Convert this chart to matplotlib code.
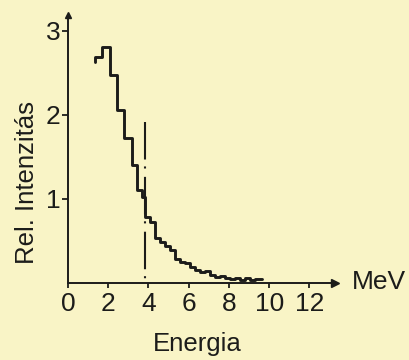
import matplotlib
matplotlib.use("Agg")
import matplotlib.pyplot as plt

# ---- data ----
edges = [1.35, 1.71, 2.09, 2.45, 2.80, 3.17, 3.42, 3.67, 3.83, 4.08, 4.33,
         4.58, 4.82, 5.07, 5.32, 5.57, 5.82, 6.07, 6.31, 6.56, 6.81, 7.06,
         7.31, 7.56, 7.80, 8.05, 8.30, 8.55, 8.80, 9.05, 9.29, 9.64]
values = [2.69, 2.81, 2.48, 2.06, 1.72, 1.40, 1.11, 1.02, 0.79, 0.73, 0.53,
          0.49, 0.44, 0.39, 0.29, 0.25, 0.24, 0.19, 0.155, 0.135, 0.14,
          0.095, 0.075, 0.08, 0.063, 0.05, 0.06, 0.04, 0.055, 0.04, 0.045]
start_value = 2.63
threshold_energy = 3.85
threshold_height = 1.92
xticks = [0, 2, 4, 6, 8, 10, 12]
yticks = [1, 2, 3]
xlabel = "Energia"
ylabel = "Rel. Intenzitás"
unit = "MeV"

BG = "#f9f4c6"
INK = "#1c1c1a"
FONT = ["Liberation Sans", "DejaVu Sans"]

plt.rcParams["font.family"] = FONT
plt.rcParams["lines.scale_dashes"] = False

fig = plt.figure(figsize=(4.09, 3.60), dpi=100, facecolor=BG)
ax = fig.add_axes([67.9 / 409, 77 / 360, (335 - 67.9) / 409, (283 - 15) / 360])
ax.set_facecolor(BG)
ax.set_xlim(0, 13.27)
ax.set_ylim(0, 3.19)

# histogram as step line
xs = [edges[0]] + edges
ys = [start_value] + values + [values[-1]]
ax.plot(xs, ys, drawstyle="steps-post", color=INK, lw=2.1,
        solid_joinstyle="round", solid_capstyle="round")

# dash-dot vertical line
ax.plot([threshold_energy, threshold_energy], [threshold_height, 0],
        color=INK, lw=1.5, linestyle=(0, (27, 5, 1.5, 6)))

# axes styling
for s in ("top", "right"):
    ax.spines[s].set_visible(False)
for s in ("left", "bottom"):
    ax.spines[s].set_color(INK)
    ax.spines[s].set_linewidth(1.4)

ax.set_xticks(xticks)
ax.set_xticklabels([str(t) for t in xticks])
ax.set_yticks(yticks)
ax.set_yticklabels([str(t) for t in yticks])
ax.tick_params(axis="x", direction="out", length=3.5, width=1.3, color=INK,
               labelcolor=INK, labelsize=19, pad=3)
ax.tick_params(axis="y", direction="out", length=4, width=1.3, color=INK,
               labelcolor=INK, labelsize=19, pad=1.5)

# arrow heads
ax.plot(1, 0, marker=">", color=INK, markersize=6, transform=ax.transAxes,
        clip_on=False)
ax.plot(0, 1, marker="^", color=INK, markersize=5, transform=ax.transAxes,
        clip_on=False)

fig.text(27 / 409, 1 - 183 / 360, ylabel, rotation=90, ha="center",
         va="center", fontsize=18.5, color=INK)
fig.text(352 / 409, 1 - 282 / 360, unit, ha="left", va="center",
         fontsize=19, color=INK)
fig.text(197 / 409, 1 - 351 / 360, xlabel, ha="center", va="baseline",
         fontsize=18.5, color=INK)

fig.savefig("out.png", dpi=100, facecolor=BG)
